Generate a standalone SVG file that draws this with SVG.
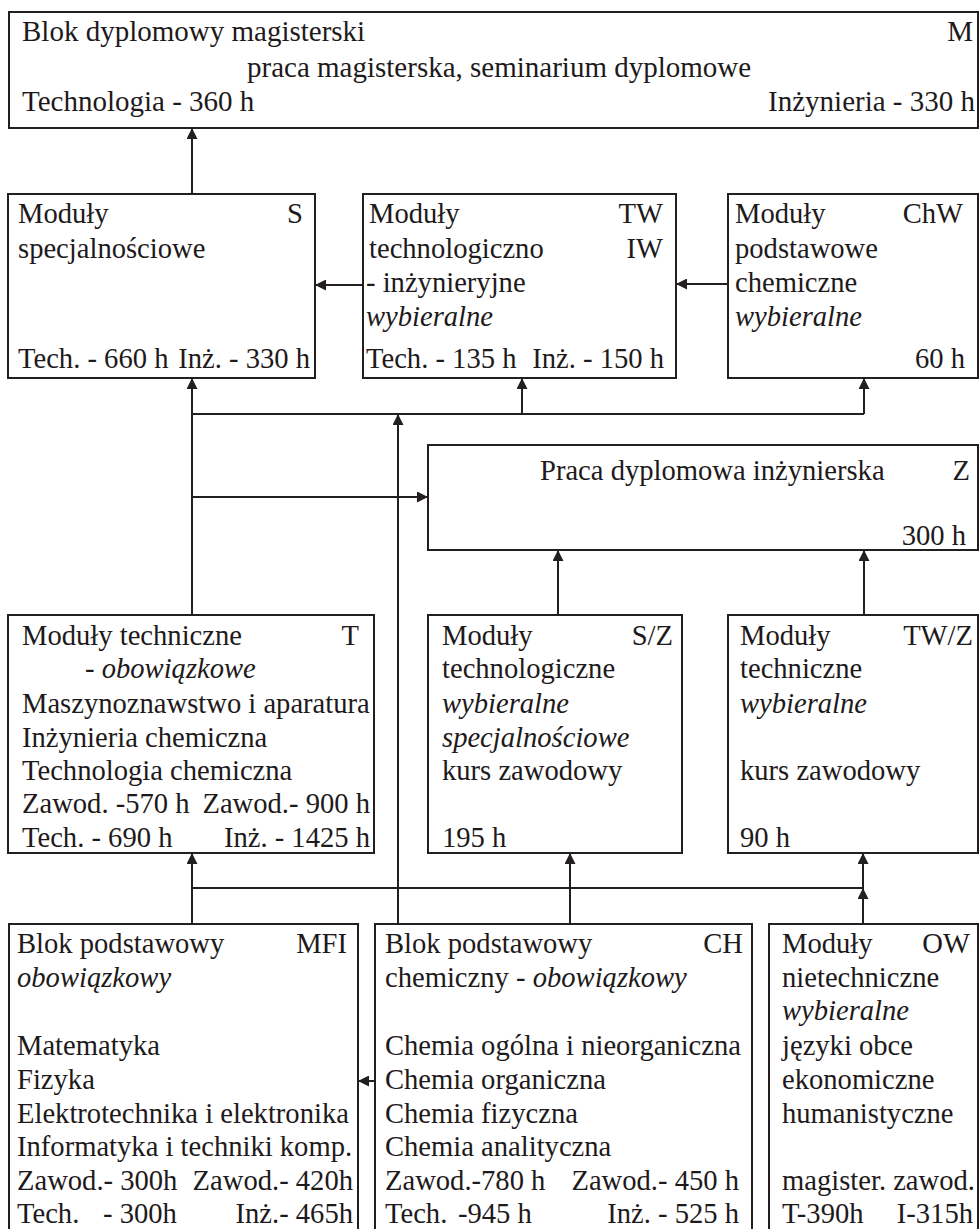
<svg xmlns="http://www.w3.org/2000/svg" width="980" height="1229" viewBox="0 0 980 1229">
<style>
.box{fill:#fff;stroke:#231f20;stroke-width:2}
text{font-family:"Liberation Serif","Times New Roman",serif;font-size:28.6px;fill:#1e1a1b}
.big{font-size:29px}
.it{font-style:italic}
.e{text-anchor:end}
.c{fill:none;stroke:#231f20;stroke-width:2}
</style>
<defs>
<marker id="ah" markerUnits="userSpaceOnUse" markerWidth="11" markerHeight="11" refX="11" refY="5.5" orient="auto">
<path d="M0,0 L11,5.5 L0,11 z" fill="#231f20"/>
</marker>
</defs>
<rect width="980" height="1229" fill="#fff"/>

<g id="connectors">
<path class="c" d="M192,194 V128" marker-end="url(#ah)"/>
<path class="c" d="M363,285 H315" marker-end="url(#ah)"/>
<path class="c" d="M728,284 H676" marker-end="url(#ah)"/>
<path class="c" d="M192,414 H864"/>
<path class="c" d="M192,615 V378" marker-end="url(#ah)"/>
<path class="c" d="M522,414 V378" marker-end="url(#ah)"/>
<path class="c" d="M864,414 V378" marker-end="url(#ah)"/>
<path class="c" d="M398,924 V414" marker-end="url(#ah)"/>
<path class="c" d="M192,497 H428" marker-end="url(#ah)"/>
<path class="c" d="M558,615 V550" marker-end="url(#ah)"/>
<path class="c" d="M864,615 V550" marker-end="url(#ah)"/>
<path class="c" d="M192,888 H863"/>
<path class="c" d="M192,924 V853" marker-end="url(#ah)"/>
<path class="c" d="M570,924 V853" marker-end="url(#ah)"/>
<path class="c" d="M863,924 V888" marker-end="url(#ah)"/>
<path class="c" d="M863,888 V853" marker-end="url(#ah)"/>
<path class="c" d="M375,1081 H358" marker-end="url(#ah)"/>
</g>

<g id="node-M" class="big">
<rect class="box" x="9" y="12" width="969" height="116"/>
<text class="big" x="22" y="41">Blok dyplomowy magisterski</text>
<text class="big e" x="973" y="41">M</text>
<text class="big" x="247" y="77">praca magisterska, seminarium dyplomowe</text>
<text class="big" x="22" y="111">Technologia - 360 h</text>
<text class="big e" x="975" y="111">Inżynieria - 330 h</text>
</g>

<g id="node-S">
<rect class="box" x="8" y="194" width="307" height="184"/>
<text x="18" y="223">Moduły</text>
<text class="e" x="303" y="223">S</text>
<text x="18" y="258">specjalnościowe</text>
<text x="18" y="368">Tech. - 660 h</text>
<text class="e" x="310" y="368">Inż. - 330 h</text>
</g>

<g id="node-TW">
<rect class="box" x="363" y="194" width="313" height="184"/>
<text x="369" y="223">Moduły</text>
<text class="e" x="663" y="223">TW</text>
<text x="369" y="258">technologiczno</text>
<text class="e" x="663" y="258">IW</text>
<text x="366" y="292">- inżynieryjne</text>
<text class="it" x="366" y="326">wybieralne</text>
<text x="366" y="368">Tech. - 135 h</text>
<text class="e" x="664" y="368">Inż. - 150 h</text>
</g>

<g id="node-ChW">
<rect class="box" x="728" y="194" width="250" height="184"/>
<text x="735" y="223">Moduły</text>
<text class="e" x="963" y="223">ChW</text>
<text x="735" y="258">podstawowe</text>
<text x="735" y="292">chemiczne</text>
<text class="it" x="735" y="326">wybieralne</text>
<text class="e" x="965" y="368">60 h</text>
</g>

<g id="node-Z">
<rect class="box" x="428" y="445" width="550" height="105"/>
<text x="540" y="480">Praca dyplomowa inżynierska</text>
<text class="e" x="970" y="480">Z</text>
<text class="e" x="966" y="545">300 h</text>
</g>

<g id="node-T">
<rect class="box" x="8" y="615" width="366" height="238"/>
<text x="22" y="645">Moduły techniczne</text>
<text class="e" x="359" y="645">T</text>
<text x="85" y="678">- <tspan class="it">obowiązkowe</tspan></text>
<text x="22" y="713">Maszynoznawstwo i aparatura</text>
<text x="22" y="747">Inżynieria chemiczna</text>
<text x="22" y="780">Technologia chemiczna</text>
<text x="22" y="813">Zawod. -570 h</text>
<text class="e" x="370" y="813">Zawod.- 900 h</text>
<text x="22" y="847">Tech. - 690 h</text>
<text class="e" x="370" y="847">Inż. - 1425 h</text>
</g>

<g id="node-SZ">
<rect class="box" x="428" y="615" width="254" height="238"/>
<text x="442" y="645">Moduły</text>
<text class="e" x="673" y="645">S/Z</text>
<text x="442" y="678">technologiczne</text>
<text class="it" x="442" y="713">wybieralne</text>
<text class="it" x="442" y="747">specjalnościowe</text>
<text x="442" y="780">kurs zawodowy</text>
<text x="442" y="847">195 h</text>
</g>

<g id="node-TWZ">
<rect class="box" x="728" y="615" width="250" height="238"/>
<text x="740" y="645">Moduły</text>
<text class="e" x="973" y="645">TW/Z</text>
<text x="740" y="678">techniczne</text>
<text class="it" x="740" y="713">wybieralne</text>
<text x="740" y="780">kurs zawodowy</text>
<text x="740" y="847">90 h</text>
</g>

<g id="node-MFI">
<rect class="box" x="9" y="924" width="349" height="320"/>
<text x="17" y="953">Blok podstawowy</text>
<text class="e" x="347" y="953">MFI</text>
<text class="it" x="17" y="987">obowiązkowy</text>
<text x="17" y="1055">Matematyka</text>
<text x="17" y="1089">Fizyka</text>
<text x="17" y="1123">Elektrotechnika i elektronika</text>
<text x="17" y="1156">Informatyka i techniki komp.</text>
<text x="17" y="1190">Zawod.- 300h</text>
<text class="e" x="353" y="1190">Zawod.- 420h</text>
<text x="17" y="1223">Tech.</text>
<text x="103" y="1223">- 300h</text>
<text class="e" x="353" y="1223">Inż.- 465h</text>
</g>

<g id="node-CH">
<rect class="box" x="375" y="924" width="377" height="320"/>
<text x="385" y="953">Blok podstawowy</text>
<text class="e" x="743" y="953">CH</text>
<text x="385" y="987">chemiczny - <tspan class="it">obowiązkowy</tspan></text>
<text x="385" y="1055">Chemia ogólna i nieorganiczna</text>
<text x="385" y="1089">Chemia organiczna</text>
<text x="385" y="1123">Chemia fizyczna</text>
<text x="385" y="1156">Chemia analityczna</text>
<text x="385" y="1190">Zawod.-780 h</text>
<text class="e" x="739" y="1190">Zawod.- 450 h</text>
<text x="385" y="1223">Tech.</text>
<text x="458" y="1223">-945 h</text>
<text class="e" x="739" y="1223">Inż. - 525 h</text>
</g>

<g id="node-OW">
<rect class="box" x="769" y="924" width="209" height="320"/>
<text x="782" y="953">Moduły</text>
<text class="e" x="970" y="953">OW</text>
<text x="782" y="987">nietechniczne</text>
<text class="it" x="782" y="1020">wybieralne</text>
<text x="782" y="1055">języki obce</text>
<text x="782" y="1089">ekonomiczne</text>
<text x="782" y="1123">humanistyczne</text>
<text x="782" y="1190">magister. zawod.</text>
<text x="782" y="1223">T-390h</text>
<text class="e" x="973" y="1223">I-315h</text>
</g>
</svg>
